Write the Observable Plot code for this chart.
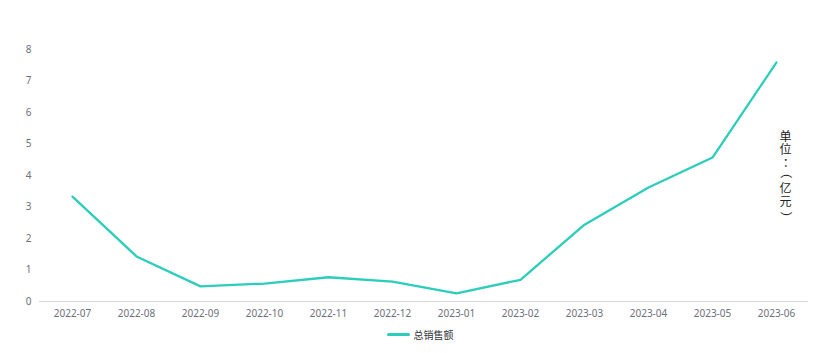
<!DOCTYPE html>
<html>
<head>
<meta charset="utf-8">
<script src="https://cdn.jsdelivr.net/npm/d3@7"></script>
<script src="https://cdn.jsdelivr.net/npm/@observablehq/plot@0.6"></script>
<style>
  body { margin: 0; background: #fff; font-family: "Noto Sans", "Noto Sans CJK SC", sans-serif; }
  #chart { width: 840px; }
  .legend { display: flex; justify-content: center; align-items: center; height: 18px; font-size: 10px; color: #333; font-family: "Noto Sans CJK SC", sans-serif; }
  .legend .sw { width: 23px; height: 3px; border-radius: 2px; background: #2ccdbb; margin-right: 4px; }
</style>
</head>
<body>
<div id="chart"></div>
<script>
const months = ["2022-07","2022-08","2022-09","2022-10","2022-11","2022-12","2023-01","2023-02","2023-03","2023-04","2023-05","2023-06"];
const sales = [3.33, 1.43, 0.48, 0.57, 0.77, 0.63, 0.26, 0.69, 2.44, 3.62, 4.57, 7.59];
const yTicks = [0, 1, 2, 3, 4, 5, 6, 7, 8];
const seriesName = "总销售额";
const unitLabel = "单位：（亿元）";
const color = "#2ccdbb";

const data = months.map((m, i) => ({month: m, value: sales[i]}));

const plot = Plot.plot({
  width: 840,
  height: 325,
  marginTop: 49,
  marginBottom: 24,
  marginLeft: 39,
  marginRight: 32,
  style: {fontFamily: "'Noto Sans', sans-serif", fontSize: "10px", color: "#6e7079"},
  x: {type: "point", domain: months, padding: 0.5, label: null},
  y: {domain: [0, 8], ticks: yTicks, label: null},
  marks: [
    Plot.axisX({tickSize: 0, tickPadding: 8, fill: "#6e7079", label: null}),
    Plot.axisY({ticks: yTicks, tickSize: 0, tickPadding: 8, fill: "#6e7079", label: null, textAnchor: "end"}),
    Plot.ruleY([0], {stroke: "#d9d9d9", strokeWidth: 1.2}),
    Plot.line(data, {x: "month", y: "value", stroke: color, strokeWidth: 2.3}),
    Plot.text([unitLabel], {frameAnchor: "right", dx: -23, text: d => Array.from(d).join("\n"), fill: "#222", fontSize: 12, fontFamily: "'Noto Sans CJK SC', sans-serif"})
  ]
});
// lay the unit label out as vertical text (parentheses turned to vertical form)
d3.select(plot).selectAll("text").filter(function() { return this.textContent === unitLabel; })
  .each(function() {
    this.removeAttribute("dy");
    this.removeAttribute("y");
    this.setAttribute("text-anchor", "middle");
    const spans = Array.from(this.querySelectorAll("tspan"));
    const n = spans.length, lh = 1.08;
    spans.forEach((s, j) => {
      s.removeAttribute("dy");
      let y = (j - (n - 1) / 2) * lh + 0.38;
      let x = 0;
      const c = s.textContent;
      if (c === "（") { s.setAttribute("rotate", "90"); x += 0.145; y -= 1.14; }
      if (c === "）") { s.setAttribute("rotate", "90"); x += 0.145; y -= 0.62; }
      if (c === "：") { x += 0.28; }
      s.setAttribute("x", `${x}em`);
      s.setAttribute("y", `${y}em`);
    });
  });
document.getElementById("chart").appendChild(plot);
const lg = document.createElement("div");
lg.className = "legend";
lg.innerHTML = `<span class="sw"></span><span>${seriesName}</span>`;
document.getElementById("chart").appendChild(lg);
</script>
</body>
</html>
